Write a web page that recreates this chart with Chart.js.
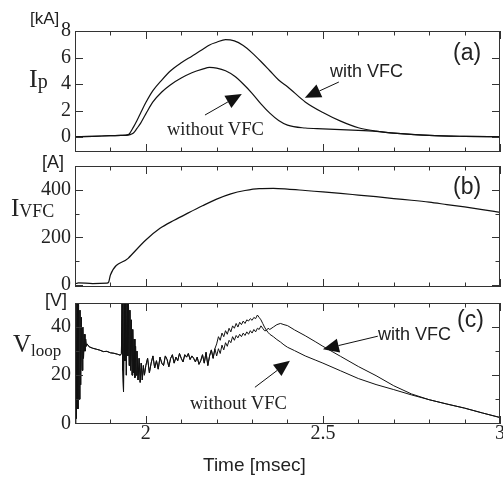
<!DOCTYPE html>
<html lang="en">
<head>
<meta charset="UTF-8">
<title>Ip, IVFC and Vloop with and without VFC</title>
<script src="https://cdn.jsdelivr.net/npm/chart.js"></script>
<style>
  body { margin: 0; background: #fff; }
  #wrap { position: relative; width: 503px; height: 481px; overflow: hidden; }
  canvas { position: absolute; left: 0; }
  .lbl { position: absolute; white-space: nowrap; line-height: 1; color: #222; }
  .sans { font-family: 'Liberation Sans', Arial, sans-serif; }
  .serif { font-family: 'Liberation Serif', 'Times New Roman', serif; }
</style>
</head>
<body>
<div id="wrap">
  <canvas id="cA" width="503" height="160" style="top:0"></canvas>
  <canvas id="cB" width="503" height="135" style="top:160px"></canvas>
  <canvas id="cC" width="503" height="186" style="top:295px"></canvas>

  <div class="lbl sans" style="left:30px;top:10px;font-size:17px">[kA]</div>
  <div class="lbl serif" style="left:29px;top:66px;font-size:26px">I<span style="font-size:20px;position:relative;top:1px">p</span></div>
  <div class="lbl sans" style="left:453px;top:41px;font-size:23px">(a)</div>
  <div class="lbl sans" style="left:330px;top:62px;font-size:18px">with VFC</div>
  <div class="lbl serif" style="left:167px;top:120px;font-size:18.5px">without VFC</div>

  <div class="lbl sans" style="left:42px;top:153px;font-size:18px">[A]</div>
  <div class="lbl serif" style="left:11px;top:195px;font-size:25px">I<span style="font-size:18px;position:relative;top:1px">VFC</span></div>
  <div class="lbl sans" style="left:453px;top:175px;font-size:23px">(b)</div>

  <div class="lbl sans" style="left:45px;top:291px;font-size:18px">[V]</div>
  <div class="lbl serif" style="left:13px;top:331px;font-size:25px">V<span style="font-size:17px;position:relative;top:4px">loop</span></div>
  <div class="lbl sans" style="left:457px;top:308px;font-size:23px">(c)</div>
  <div class="lbl sans" style="left:378px;top:325px;font-size:18px">with VFC</div>
  <div class="lbl serif" style="left:190px;top:394px;font-size:18.5px">without VFC</div>

  <div class="lbl sans" style="left:203px;top:455px;font-size:19px">Time [msec]</div>
</div>

<script>
// (a) plasma current Ip [kA]
const tIp = [1.80, 1.85, 1.90, 1.93, 1.95, 1.955, 1.965, 1.975, 1.985, 2.00, 2.02, 2.045, 2.07, 2.10, 2.13, 2.16, 2.18, 2.20,
             2.225, 2.25, 2.275, 2.30, 2.325, 2.35, 2.375, 2.40, 2.45, 2.50, 2.55, 2.60, 2.65, 2.70, 2.80, 2.90, 3.00];
const ipWith = [0.02, 0.05, 0.1, 0.12, 0.18, 0.3, 0.75, 1.25, 1.8, 2.6, 3.5, 4.3, 5.0, 5.6, 6.1, 6.6, 6.95, 7.15,
                7.35, 7.25, 6.9, 6.35, 5.7, 5.0, 4.3, 3.8, 2.65, 1.85, 1.2, 0.7, 0.45, 0.3, 0.12, 0.05, 0.02];
const ipWithout = [0.02, 0.05, 0.1, 0.12, 0.15, 0.18, 0.3, 0.65, 1.03, 1.75, 2.65, 3.4, 3.95, 4.45, 4.85, 5.12, 5.25, 5.2,
                   5.0, 4.6, 4.0, 3.3, 2.5, 1.8, 1.25, 0.9, 0.68, 0.62, 0.56, 0.5, 0.42, 0.3, 0.12, 0.05, 0.02];

// (b) VFC coil current [A]
const tVfc = [1.80, 1.81, 1.85, 1.89, 1.895, 1.90, 1.95, 2.00, 2.04, 2.08, 2.12, 2.16, 2.20, 2.24, 2.28, 2.32, 2.36, 2.40,
              2.45, 2.50, 2.55, 2.60, 2.65, 2.70, 2.75, 2.80, 2.85, 2.90, 2.95, 3.00];
const iVfc = [4, 9, 6, 8, 12, 42, 112, 189, 238, 272, 303, 333, 361, 383, 397, 405, 406, 403,
              397, 391, 385, 378, 371, 363, 356, 348, 338, 328, 317, 305];

// (c) loop voltage [V] - both shots overlap until ~2.2 ms
const tLoop = [
  1.800, 1.802, 1.804, 1.806, 1.808, 1.810, 1.812, 1.814, 1.816, 1.818, 1.820, 1.822, 1.824, 1.826, 1.828, 1.830, 1.832, 1.834,
  1.84, 1.85, 1.86, 1.87, 1.88, 1.89, 1.90, 1.91, 1.92, 1.928,
  1.931, 1.933, 1.935, 1.937, 1.939, 1.941, 1.943, 1.945, 1.947, 1.949, 1.951, 1.953, 1.955, 1.957, 1.959,
  1.961, 1.963, 1.965, 1.967, 1.969, 1.971, 1.973, 1.975, 1.978, 1.981, 1.984, 1.987, 1.990, 1.993, 1.996,
  2.000, 2.005, 2.010, 2.015, 2.020, 2.025, 2.030, 2.035, 2.040, 2.045, 2.050, 2.055, 2.060, 2.065, 2.070, 2.075, 2.080, 2.085, 2.090, 2.095,
  2.100, 2.105, 2.110, 2.115, 2.120, 2.125, 2.130, 2.135, 2.140, 2.145, 2.150, 2.155, 2.160, 2.165, 2.170, 2.175, 2.180, 2.185, 2.190, 2.195,
  2.200, 2.205, 2.210, 2.215, 2.220, 2.225, 2.230, 2.235, 2.240, 2.245, 2.250, 2.255, 2.260, 2.265, 2.270, 2.275,
  2.280, 2.285, 2.290, 2.295, 2.300, 2.305, 2.310, 2.315, 2.320, 2.325, 2.330, 2.335, 2.340, 2.345, 2.350,
  2.36, 2.37, 2.38, 2.39, 2.40, 2.42, 2.45, 2.48, 2.50, 2.55, 2.60, 2.65, 2.70, 2.75, 2.80, 2.85, 2.90, 2.95, 3.00
];
const vLoopCommon = [
  0, 52, 2, 51, 6, 50, 10, 47, 16, 44, 22, 40, 27, 37, 30, 35, 32, 33,
  31.8, 31.2, 30.8, 30.4, 29.8, 29.9, 29.3, 29.1, 28.7, 28.3,
  29, 52, 22, 13, 52, 26, 52, 20, 52, 28, 50, 24, 47, 22, 43,
  20, 39, 21, 35, 19, 32, 20, 30, 18, 27, 17, 25, 18, 24, 20,
  24, 27, 21, 25, 28, 23, 26, 22.5, 27.5, 25, 24, 28, 26.5, 23.5, 27, 28.5, 25, 27.5, 26, 29,
  27, 25.5, 28.5, 27.5, 29, 26.5, 28, 27, 25.5, 27.5, 24.5, 26, 28.5, 25, 29.5, 24, 28, 30.5, 27, 31
];
const vLoopWithTail = [
  28, 31, 29, 32.5, 30.5, 33.5, 32, 34.5, 33.5, 36, 34.5, 36.5, 35.5, 37, 36, 37.5,
  36.5, 38, 37, 38.5, 37.5, 39, 38, 39.5, 39, 40.5, 39.5, 38.5, 38.5, 39.5, 39,
  40, 41, 41.5, 41, 40.6, 38.8, 36.4, 33.8, 32, 27.8, 23.6, 19.8, 15.6, 12.2, 9.8, 8, 6.3, 4.3, 2.4
];
const vLoopWithoutTail = [
  33, 36, 34.5, 37.5, 36, 38.5, 37, 39.5, 38, 40.5, 39.5, 41.5, 40, 42, 41, 42.5,
  41.5, 43, 42.5, 43.5, 42.8, 44, 43.5, 45, 44, 43, 41.5, 40, 38.8, 37.8, 37,
  36, 34.8, 33.8, 32.6, 31.6, 30.2, 28, 26.2, 25, 21.8, 18.6, 16.1, 14, 11.8, 9.8, 8, 6.3, 4.3, 2.4
];

const timeLabels = [2, 2.5, 3];
const ipTicks = [0, 1, 2, 3, 4, 5, 6, 7, 8];
const ipLabels = [0, 2, 4, 6, 8];
const vfcTicks = [0, 100, 200, 300, 400];
const vfcLabels = [0, 200, 400];
const loopTicks = [0, 10, 20, 30, 40];
const loopLabels = [0, 20, 40];

const pts = (xs, ys) => xs.map((x, i) => ({ x: x, y: ys[i] }));
const near = (v, list) => list.some(l => Math.abs(l - v) < 1e-6);

// box with inward ticks (long on labelled ticks) + arrows given in data units
function framePlugin(arrows) {
  return {
    id: 'frame',
    afterDatasetsDraw(chart) {
      const { ctx, chartArea: a, scales } = chart;
      ctx.save();
      ctx.strokeStyle = '#333';
      ctx.lineWidth = 1;
      ctx.strokeRect(Math.round(a.left) + 0.5, Math.round(a.top) + 0.5,
                     Math.round(a.right - a.left) - 1, Math.round(a.bottom - a.top) - 1);
      ctx.beginPath();
      scales.x.ticks.forEach(t => {
        const px = Math.round(scales.x.getPixelForValue(t.value)) + 0.5;
        const len = t.label !== '' ? 8 : 4.5;
        ctx.moveTo(px, a.bottom); ctx.lineTo(px, a.bottom - len);
        ctx.moveTo(px, a.top); ctx.lineTo(px, a.top + len);
      });
      scales.y.ticks.forEach(t => {
        const py = Math.round(scales.y.getPixelForValue(t.value)) + 0.5;
        const len = t.label !== '' ? 8 : 4.5;
        ctx.moveTo(a.left, py); ctx.lineTo(a.left + len, py);
        ctx.moveTo(a.right, py); ctx.lineTo(a.right - len, py);
      });
      ctx.stroke();

      ctx.fillStyle = '#111';
      ctx.strokeStyle = '#111';
      arrows.forEach(ar => {
        const x0 = scales.x.getPixelForValue(ar.from[0]), y0 = scales.y.getPixelForValue(ar.from[1]);
        const x1 = scales.x.getPixelForValue(ar.to[0]), y1 = scales.y.getPixelForValue(ar.to[1]);
        const ang = Math.atan2(y1 - y0, x1 - x0);
        const hl = 16, hw = 7;
        const bx = x1 - hl * Math.cos(ang), by = y1 - hl * Math.sin(ang);
        ctx.beginPath();
        ctx.moveTo(x0, y0); ctx.lineTo(bx, by);
        ctx.stroke();
        ctx.beginPath();
        ctx.moveTo(x1, y1);
        ctx.lineTo(bx + hw * Math.sin(ang), by - hw * Math.cos(ang));
        ctx.lineTo(bx - hw * Math.sin(ang), by + hw * Math.cos(ang));
        ctx.closePath();
        ctx.fill();
      });
      ctx.restore();
    }
  };
}

function makePanel(id, datasets, y, pad, showTime, arrows) {
  new Chart(document.getElementById(id), {
    type: 'line',
    data: { datasets: datasets },
    options: {
      responsive: false,
      animation: false,
      layout: { padding: pad },
      plugins: { legend: { display: false }, tooltip: { enabled: false } },
      elements: { point: { radius: 0 } },
      scales: {
        x: {
          type: 'linear', min: 1.8, max: 3.0,
          grid: { display: false, drawTicks: false },
          border: { display: false },
          ticks: {
            stepSize: 0.1, display: showTime, padding: 0, color: '#222',
            font: { family: 'Liberation Serif', size: 20, lineHeight: 1 },
            callback: v => near(v, timeLabels) ? String(v) : ''
          },
          afterFit: s => { s.height = showTime ? 57 : 0; s.paddingLeft = 0; s.paddingRight = 0; }
        },
        y: {
          min: y.min, max: y.max,
          grid: { display: false, drawTicks: false },
          border: { display: false },
          ticks: {
            padding: 4, color: '#222',
            font: { family: 'Liberation Serif', size: 20 },
            callback: v => near(v, y.labels) ? String(v) : ''
          },
          afterBuildTicks: s => { s.ticks = y.ticks.map(v => ({ value: v })); },
          afterFit: s => { s.width = 75; s.paddingTop = 0; s.paddingBottom = 0; }
        }
      }
    },
    plugins: [framePlugin(arrows)]
  });
}

const lineStyle = { borderColor: '#111', borderWidth: 1.2, fill: false, pointRadius: 0 };

makePanel('cA', [
  Object.assign({ label: 'with VFC', data: pts(tIp, ipWith), cubicInterpolationMode: 'monotone' }, lineStyle),
  Object.assign({ label: 'without VFC', data: pts(tIp, ipWithout), cubicInterpolationMode: 'monotone' }, lineStyle)
], { min: -1.13, max: 8, ticks: ipTicks, labels: ipLabels }, { top: 31, right: 3, bottom: 8, left: 0 }, false, [
  { from: [2.545, 4.15], to: [2.449, 2.97] },
  { from: [2.167, 1.66], to: [2.271, 3.25] }
]);

makePanel('cB', [
  Object.assign({ label: 'IVFC', data: pts(tVfc, iVfc), cubicInterpolationMode: 'monotone' }, lineStyle)
], { min: -8.4, max: 500, ticks: vfcTicks, labels: vfcLabels }, { top: 6, right: 3, bottom: 8, left: 0 }, false, []);

makePanel('cC', [
  Object.assign({ label: 'with VFC', data: pts(tLoop, vLoopCommon.concat(vLoopWithTail)) }, lineStyle, { borderWidth: 1 }),
  Object.assign({ label: 'without VFC', data: pts(tLoop, vLoopCommon.concat(vLoopWithoutTail)) }, lineStyle, { borderWidth: 1 })
], { min: -0.3, max: 50, ticks: loopTicks, labels: loopLabels }, { top: 8, right: 3, bottom: 0, left: 0 }, true, [
  { from: [2.655, 36.2], to: [2.500, 30.76] },
  { from: [2.308, 14.96], to: [2.407, 26.0] }
]);
</script>
</body>
</html>
